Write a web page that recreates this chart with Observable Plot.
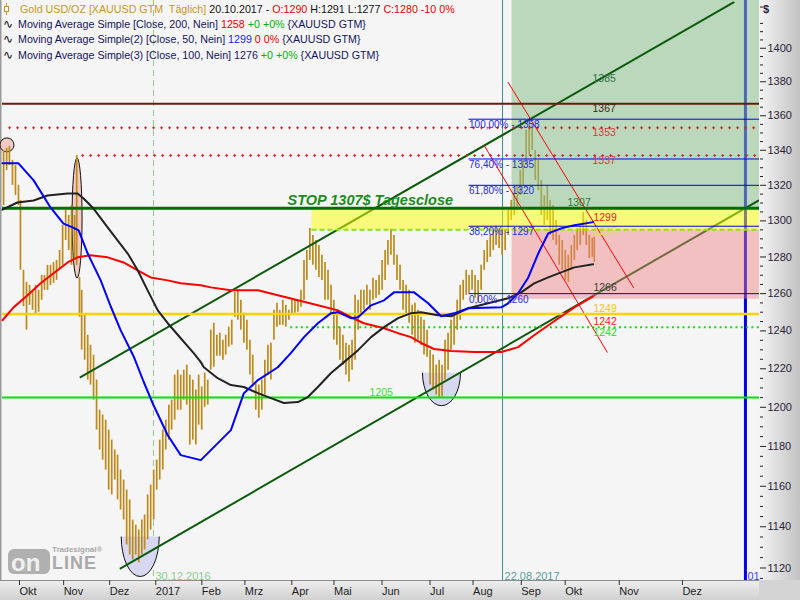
<!DOCTYPE html>
<html><head><meta charset="utf-8">
<script src="https://cdn.jsdelivr.net/npm/d3@7"></script>
<script src="https://cdn.jsdelivr.net/npm/@observablehq/plot@0.6"></script>
<style>html,body{margin:0;padding:0;background:#fff;}#chart{width:800px;height:600px;overflow:hidden;}</style>
</head><body><div id="chart"></div>
<script>
// ---------- DATA ----------
// x = trading-day index (0 = 21.09.2016), y = price (USD)
const candleIndex = [0.5,1.9,3.2,4.6,6.0,7.4,8.3,9.7,11.1,12.5,
13.9,15.3,16.7,18.1,19.4,20.8,22.2,23.6,25.0,26.4,
27.8,29.2,30.6,31.9,33.3,34.3,35.6,36.6,38.0,39.4,
40.7,42.1,43.5,44.9,46.3,47.7,49.1,50.5,51.9,53.2,
54.6,56.0,57.4,58.8,60.2,61.6,63.0,64.4,65.7,67.1,
68.5,69.9,71.3,72.7,74.1,75.5,76.9,78.2,79.6,81.0,
82.4,83.8,85.2,86.6,88.0,89.4,90.7,92.1,93.5,94.9,
96.3,97.7,99.1,100.5,101.9,103.2,104.6,106.0,107.4,108.8,
110.2,111.6,113.0,114.4,115.7,117.1,118.5,119.9,121.3,122.7,
124.1,125.5,126.9,128.2,129.6,131.0,132.4,133.8,135.2,136.6,
138.0,139.4,140.7,142.1,143.5,144.9,146.3,147.7,149.1,150.5,
151.9,153.2,154.6,156.0,157.4,158.8,160.2,161.6,163.0,164.4,
165.7,167.1,168.5,169.9,171.3,172.7,174.1,175.5,176.9,178.2,
179.6,181.0,182.4,183.8,185.2,186.6,188.0,189.4,190.7,192.1,
193.5,194.9,196.3,197.7,199.1,200.5,201.9,203.2,204.6,206.0,
207.4,208.8,210.2,211.6,213.0,214.4,215.7,217.1,218.5,219.9,
221.3,222.7,224.1,225.5,226.9,228.2,229.6,231.0,232.4,233.8,
235.2,236.6,238.0,239.4,240.7,242.1,243.5,244.9,246.3,247.7,
249.1,250.5,251.9,253.2,254.6,256.0,257.4,258.8,260.2,261.6,
263.0,264.4,265.7,267.1,268.5,269.9,271.3,272.7,273.6];
const candleHigh = [1339.9,1341.1,1342.2,1334.2,1331.3,1320.0,1311.4,1272.7,1266.1,1264.5,
1261.8,1264.5,1261.8,1269.9,1269.9,1275.4,1275.4,1277.0,1278.1,1283.6,
1297.4,1305.8,1303.0,1308.6,1303.0,1337.0,1268.8,1261.8,1248.4,1237.7,
1232.4,1227.2,1214.1,1198.5,1196.0,1193.4,1188.3,1183.2,1178.2,1175.6,
1168.1,1163.1,1158.1,1153.2,1143.3,1140.8,1138.4,1143.3,1145.8,1155.7,
1160.6,1168.1,1173.1,1183.2,1188.3,1193.4,1201.1,1203.7,1216.7,1219.3,
1216.7,1219.3,1221.9,1216.7,1214.1,1208.9,1216.7,1210.5,1217.8,1214.1,
1240.4,1244.1,1237.7,1238.8,1235.1,1237.7,1242.0,1245.7,1260.7,1261.8,
1256.4,1249.4,1245.7,1235.1,1227.2,1213.1,1211.5,1214.1,1224.5,1232.4,
1233.5,1251.0,1254.8,1251.0,1256.4,1253.7,1251.0,1256.4,1256.4,1256.4,
1261.8,1278.1,1283.6,1295.8,1291.9,1289.1,1286.3,1280.9,1277.0,1272.7,
1264.5,1256.4,1251.0,1242.0,1237.7,1233.5,1232.4,1235.1,1259.1,1256.4,
1261.8,1261.8,1264.5,1261.8,1268.3,1267.2,1269.9,1278.1,1283.6,1289.1,
1295.3,1291.9,1280.9,1275.4,1267.2,1264.5,1261.8,1253.7,1254.8,1251.0,
1247.3,1245.7,1240.4,1229.8,1227.2,1221.9,1224.5,1221.9,1235.1,1238.8,
1245.7,1248.4,1256.4,1264.5,1267.2,1272.7,1269.9,1272.7,1269.9,1267.2,
1275.4,1283.6,1289.1,1291.9,1294.7,1297.4,1294.7,1297.4,1294.7,1305.8,
1311.4,1315.4,1320.0,1328.4,1334.2,1351.5,1357.3,1354.4,1339.9,1334.2,
1322.8,1314.2,1320.0,1311.4,1308.6,1300.2,1291.9,1289.1,1283.6,1280.9,
1286.3,1291.9,1295.8,1297.4,1304.7,1300.2,1291.9,1290.3,1291];
const candleLow = [1308.6,1328.4,1331.3,1320.0,1314.2,1308.6,1272.7,1253.0,1240.4,1253.7,
1251.0,1248.4,1250.0,1256.4,1261.8,1261.8,1264.5,1265.6,1267.2,1272.7,
1275.4,1289.1,1283.6,1275.4,1278.1,1275.4,1247.3,1229.8,1224.5,1214.1,
1211.5,1203.7,1188.3,1178.2,1173.1,1168.1,1158.1,1155.7,1163.1,1153.2,
1148.2,1143.3,1131.1,1126.3,1123.9,1126.3,1122.5,1126.3,1128.7,1133.6,
1138.4,1143.3,1158.1,1163.1,1168.1,1178.2,1183.2,1188.3,1193.4,1198.5,
1198.5,1203.7,1201.1,1180.7,1183.2,1180.7,1190.8,1188.3,1200.0,1201.1,
1219.3,1220.8,1226.6,1226.6,1224.5,1227.2,1231.4,1232.4,1247.3,1245.7,
1240.4,1233.5,1229.8,1216.7,1210.5,1198.5,1194.4,1198.5,1206.3,1216.7,
1214.1,1235.1,1242.0,1243.0,1243.0,1242.0,1245.7,1248.4,1249.4,1250.0,
1252.6,1256.4,1267.2,1278.1,1275.4,1272.7,1268.8,1267.2,1256.4,1256.4,
1248.4,1235.1,1232.4,1224.5,1221.9,1216.7,1213.1,1219.3,1224.5,1240.4,
1249.4,1251.0,1253.7,1251.0,1256.4,1257.5,1259.1,1261.8,1267.2,1275.4,
1280.9,1275.4,1267.2,1261.8,1251.0,1248.4,1244.1,1237.7,1233.5,1235.1,
1232.4,1227.2,1226.1,1211.5,1208.9,1206.3,1204.7,1205.3,1214.1,1219.3,
1229.8,1232.4,1240.4,1245.7,1256.4,1259.1,1260.2,1261.8,1257.5,1254.8,
1261.8,1272.7,1277.0,1279.8,1283.6,1286.3,1284.7,1280.9,1283.6,1291.9,
1300.2,1303.0,1305.8,1314.2,1320.0,1331.3,1337.0,1339.9,1322.8,1317.1,
1303.0,1297.4,1300.2,1291.9,1289.1,1286.3,1275.4,1272.7,1267.2,1266.1,
1272.7,1278.1,1283.6,1286.3,1291.9,1286.3,1279.2,1279.8,1277];

// Moving averages [index, price]
const ma200 = [[0,1245.7],[5.1,1252.6],[11.6,1259.1],[17.6,1265.6],[23.6,1271.1],[30.1,1277.0],[34.7,1279.8],[40.7,1280.9],[48.6,1279.8],[56,1277.0],[62.5,1272.7],[68.5,1268.8],[76.4,1267.2],[82.4,1265.6],[91.7,1264.5],[96.3,1263.4],[105.6,1261.8],[118.1,1261.8],[127.3,1259.1],[136.6,1256.4],[145.8,1253.7],[155.1,1251.0],[161.1,1247.3],[167.1,1244.1],[176.4,1241.4],[182.9,1238.8],[188.9,1236.7],[193.5,1233.6],[199.5,1230.4],[207.4,1229.3],[218.1,1228.8],[230.6,1228.8],[238.4,1231.4],[245.8,1237.7],[253.7,1244.1],[264.4,1252.6],[273.1,1258.5]];
const ma50 = [[0,1332.5],[7.4,1332.5],[14.4,1322.8],[22.2,1307.5],[28.2,1298.5],[32.4,1296.4],[35.2,1294.7],[39.4,1281.9],[45.4,1267.2],[50,1253.2],[54.6,1240.4],[60.6,1226.6],[65.3,1213.1],[69.9,1200.9],[76.4,1185.7],[82.4,1175.6],[91.7,1173.1],[105.6,1188.3],[111.6,1207.3],[118.1,1214.1],[127.3,1220.8],[133.3,1228.2],[139.4,1236.7],[145.8,1244.1],[151.9,1249.5],[155.1,1250.0],[161.1,1246.8],[164.4,1247.3],[170.4,1253.7],[176.4,1256.4],[181,1260.7],[185.6,1260.7],[190.3,1260.7],[196.8,1254.8],[202.8,1247.8],[208.8,1249.4],[215.3,1252.1],[230.6,1252.6],[233.8,1254.8],[238.4,1260.2],[243.1,1268.8],[247.7,1281.9],[252.3,1293.0],[258.3,1295.8],[264.4,1297.5],[273.1,1299.3]];
const ma100 = [[0,1306.3],[6.9,1310.3],[14.4,1311.4],[20.8,1314.2],[30.1,1315.4],[34.7,1315.4],[37.5,1312.5],[42.1,1306.9],[48.6,1296.4],[53.2,1289.1],[57.9,1281.9],[62.5,1272.7],[67.1,1261.8],[71.8,1251.0],[76.4,1244.1],[82.4,1236.1],[88.4,1228.2],[91.7,1223.5],[93.1,1220.8],[99.5,1215.1],[105.6,1211.5],[111.6,1210.5],[118.1,1207.3],[124.1,1204.7],[130.1,1202.2],[136.6,1202.7],[141.2,1205.3],[145.8,1210.5],[151.9,1217.8],[157.9,1223.5],[164.4,1229.8],[170.4,1236.7],[176.4,1242.0],[182.9,1246.8],[188.9,1249.5],[193.5,1250.0],[201.4,1248.4],[207.4,1247.8],[215.3,1252.1],[224.5,1254.8],[233.8,1257.5],[239.8,1260.7],[245.8,1265.6],[252.3,1268.8],[258.3,1271.6],[264.4,1274.3],[273.1,1276.0]];

// Trend channel (dark green) and short-term down channel (red), [index, price]
const channelUpper = [[36.1,1215.6],[338,1427.8]];
const channelLower = [[54.6,1119.8],[349.5,1311.4]];
const downLine1 = [[222.7,1342.8],[279.6,1228.7]];
const downLine2 = [[233.8,1379.6],[291.7,1263.4]];

// Horizontal levels
const stopLevel = 1307;
const resistLevel = 1367;
const plusLevels = [{v:1353, from:2.8}, {v:1337, from:36.6}];
const fibLevels = [{pct:"100,00%", v:1358},{pct:"76,40%", v:1335},{pct:"61,80%", v:1320},{pct:"38,20%", v:1297},{pct:"0,00%", v:1260}];
const fibFrom = 215.7;
const bandLevels = {top:1307, bottom:1295, from:143.1};
const zoneFrom = 235.6;
const pinkZone = {top:1295, bottom:1257};
const yellowLevel = 1249;
const greenDotLevel = {v:1242, from:133.3};
const supportLevel = 1205;
const xEnd = 350;

// Vertical markers
const markerDates = [{i:69.8, label:"30.12.2016"},{i:231.2, label:"22.08.2017"}];
const futureMarker = {i:343.5, label:"01"};

// Level labels
const labelsAbove = [
  {t:"1307", i:261.2, v:1307, c:"#2E7A2E"},
  {t:"1299", i:273.2, v:1299, c:"#FF1A1A"},
  {t:"1249", i:273.2, v:1249, c:"#F2C800"},
  {t:"1242", i:273.2, v:1242, c:"#FF2020"},
  {t:"1205", i:169.7, v:1205, c:"#3ADD3A"}
];
const labelsOnLine = [
  {t:"1295", i:273.2, v:1295, c:"#D6E05A"}
];
const labelsBelow = [
  {t:"1385", i:272.8, v:1385, c:"#2F6F4A"},
  {t:"1367", i:272.8, v:1367, c:"#4A2410"},
  {t:"1353", i:272.8, v:1353, c:"#D83A3A"},
  {t:"1337", i:272.8, v:1337, c:"#D83A3A"},
  {t:"1266", i:273.2, v:1266, c:"#3A3A3A"},
  {t:"1242", i:273.2, v:1242, c:"#22DD22"}
];
const stopNote = {t:"STOP 1307$ Tagesclose", i:131.8, v:1307};

// Annotation ellipses (centre in data space)
const ellipseCentres = [
  {i:2.3, p:1342.8, kind:"circle"},
  {i:34.7, p:1301.3, kind:"tall"},
  {i:63.9, p:1135.0, kind:"bowl"},
  {i:203.2, p:1217.7, kind:"bowl2"}
];

// Axes
const yTicks = [1120,1140,1160,1180,1200,1220,1240,1260,1280,1300,1320,1340,1360,1380,1400];
const monthTickIdx = [7.4,27.8,49.1,70.4,91.7,111.6,133.3,152.8,175.0,197.2,217.1,239.4,259.7,284.7,313.9];
const monthLabels = ["Okt","Nov","Dez","2017","Feb","Mrz","Apr","Mai","Jun","Jul","Aug","Sep","Okt","Nov","Dez"];

// Legend
const legendRows = [
  [["Gold USD/OZ [XAUUSD GTM  Täglich] ","#C8961E"],["20.10.2017 - ","#111"],["O:1290","#E60000"],[" H:1291 L:1277 ","#111"],["C:1280 -10 0%","#E60000"]],
  [["Moving Average Simple [Close, 200, Nein] ","#14145A"],["1258","#E60000"],[" +0 +0%","#00B400"],[" {XAUUSD GTM}","#14145A"]],
  [["Moving Average Simple(2) [Close, 50, Nein] ","#14145A"],["1299","#2020FF"],[" 0 0%","#E60000"],[" {XAUUSD GTM}","#14145A"]],
  [["Moving Average Simple(3) [Close, 100, Nein] ","#14145A"],["1276","#14145A"],[" +0 +0%","#00B400"],[" {XAUUSD GTM}","#14145A"]]
];

// ---------- RENDER ----------
const FONT = "'Liberation Sans', Arial, sans-serif";
const n = Math.min(candleIndex.length, candleHigh.length, candleLow.length);
const candles = d3.range(n).map(k => ({i:candleIndex[k], hi:candleHigh[k], lo:candleLow[k]}));
const monthMap = new Map(monthTickIdx.map((d,k)=>[d, monthLabels[k]]));

function chrome(index, scales, values, dims) {
  const W = dims.width, H = dims.height;
  const R = W - dims.marginRight, B = H - dims.marginBottom;
  const g = d3.create("svg:g").attr("text-anchor","start");
  const defs = g.append("defs");
  const gr = defs.append("linearGradient").attr("id","gRight").attr("x1",0).attr("x2",1).attr("y1",0).attr("y2",0);
  gr.append("stop").attr("offset",0).attr("stop-color","#F4F4F4");
  gr.append("stop").attr("offset",1).attr("stop-color","#C2C2C2");
  const gb = defs.append("linearGradient").attr("id","gBottom").attr("x1",0).attr("x2",0).attr("y1",0).attr("y2",1);
  gb.append("stop").attr("offset",0).attr("stop-color","#EEEEEE");
  gb.append("stop").attr("offset",1).attr("stop-color","#D0D0D0");
  g.append("rect").attr("x",0).attr("y",0).attr("width",R).attr("height",B).attr("fill","#F5F5F5");
  g.append("rect").attr("x",R).attr("y",0).attr("width",W-R).attr("height",B).attr("fill","url(#gRight)");
  g.append("rect").attr("x",0).attr("y",B).attr("width",R).attr("height",H-B).attr("fill","url(#gBottom)");
  g.append("rect").attr("x",R).attr("y",B).attr("width",W-R).attr("height",H-B).attr("fill","#D4D4D4");
  g.append("line").attr("x1",0).attr("x2",R).attr("y1",B+0.5).attr("y2",B+0.5).attr("stroke","#8C8C8C");
  g.append("line").attr("x1",0.5).attr("x2",0.5).attr("y1",0).attr("y2",B).attr("stroke","#9A9A9A");
  g.append("line").attr("x1",1.5).attr("x2",1.5).attr("y1",0).attr("y2",B).attr("stroke","#C8C8C8");
  g.append("text").attr("x",R+4).attr("y",13).attr("font-family",FONT).attr("font-size",11).attr("font-weight","bold").attr("fill","#2A1F3A").text("$");
  return g.node();
}

function ellipses(index, scales) {
  const g = d3.create("svg:g");
  const size = {circle:[7,7], tall:[5,60], bowl:[19,40], bowl2:[19,33]};
  for (const e of ellipseCentres) {
    const cx = scales.x(e.i), cy = scales.y(e.p);
    const [rx, ry] = size[e.kind];
    if (e.kind === "bowl" || e.kind === "bowl2") {
      g.append("path").attr("d", `M${cx-rx},${cy}A${rx},${ry} 0 0 0 ${cx+rx},${cy}`)
        .attr("fill","#D7D7F2").attr("stroke","#111").attr("stroke-width",1);
    } else {
      g.append("ellipse").attr("cx",cx).attr("cy",cy).attr("rx",rx).attr("ry",ry)
        .attr("fill","#F3C2BC").attr("fill-opacity",0.85).attr("stroke","#111").attr("stroke-width",1);
    }
  }
  return g.node();
}

function legend() {
  const g = d3.create("svg:g").attr("font-family", FONT).attr("font-size", 10.7).attr("text-anchor","start");
  legendRows.forEach((row, r) => {
    const t = g.append("text").attr("x", r === 0 ? 20 : 18).attr("y", 13 + r*15.2).attr("text-anchor","start").style("white-space","pre");
    row.forEach(([s,c]) => t.append("tspan").attr("fill", c).text(s));
    if (r === 0) {
      g.append("line").attr("x1",6.5).attr("x2",6.5).attr("y1",3).attr("y2",15).attr("stroke","#C8961E");
      g.append("rect").attr("x",4.5).attr("y",6.5).attr("width",4).attr("height",5).attr("fill","#fff").attr("stroke","#C8961E");
    } else {
      g.append("text").attr("x",3).attr("y",13 + r*15.2).attr("text-anchor","start").attr("font-family","'DejaVu Sans', sans-serif").attr("font-size",12).attr("fill","#111").text("\u223F");
    }
  });
  // Tradesignal online logo
  const lg = g.append("g").attr("fill","#A9A9A9").attr("text-anchor","start");
  lg.append("rect").attr("x",8).attr("y",549).attr("width",42).attr("height",25).attr("rx",6).attr("fill","#A9A9A9").attr("fill-opacity",0.9);
  lg.append("text").attr("x",11).attr("y",571).attr("font-family",FONT).attr("font-weight","bold").attr("font-size",24).attr("fill","#F0F0F0").text("on");
  lg.append("text").attr("x",52).attr("y",569).attr("font-family",FONT).attr("font-weight","bold").attr("font-size",18).attr("letter-spacing",1).text("LINE");
  lg.append("text").attr("x",52).attr("y",552).attr("font-family",FONT).attr("font-weight","bold").attr("font-size",8).text("Tradesignal®");
  return g.node();
}

const chart = Plot.plot({
  width: 800, height: 600,
  marginLeft: 2, marginRight: 41, marginTop: 0, marginBottom: 20,
  x: {domain: [0, 350], axis: null},
  y: {type: "log", domain: [1114, 1429], axis: null},
  color: {type: "identity"},
  style: {background: "transparent", fontFamily: FONT, fontSize: "11px", overflow: "visible"},
  marks: [
    chrome,
    // vertical markers
    Plot.ruleX([markerDates[0]], {x: "i", stroke: "#8FCB8F", strokeWidth: 1, strokeDasharray: "6,4"}),
    Plot.ruleX([markerDates[1]], {x: "i", stroke: "#3A8C8C", strokeWidth: 1}),
    Plot.ruleX([futureMarker], {x: "i", stroke: "#0000E6", strokeWidth: 3}),
    ellipses,
    // candles
    Plot.ruleX(candles, {x: "i", y1: "lo", y2: "hi", stroke: "#BC8A1A", strokeWidth: 1.7}),
    // green target zone (under channel lines)
    Plot.rect([{x1: zoneFrom, x2: xEnd, y1: stopLevel, y2: 1429}], {x1: "x1", x2: "x2", y1: "y1", y2: "y2", fill: "#8CC08C", fillOpacity: 0.55, clip: true}),
    // channels
    Plot.line(channelUpper, {x: d => d[0], y: d => d[1], stroke: "#0B5A0B", strokeWidth: 2, clip: true}),
    Plot.line(channelLower, {x: d => d[0], y: d => d[1], stroke: "#0B5A0B", strokeWidth: 2, clip: true}),
    // pink zone and yellow band
    Plot.rect([{x1: zoneFrom, x2: xEnd, y1: pinkZone.bottom, y2: pinkZone.top}], {x1: "x1", x2: "x2", y1: "y1", y2: "y2", fill: "#F08080", fillOpacity: 0.45}),
    Plot.rect([{x1: bandLevels.from, x2: xEnd, y1: bandLevels.bottom, y2: bandLevels.top}], {x1: "x1", x2: "x2", y1: "y1", y2: "y2", fill: "#FFFF00", fillOpacity: 0.5}),
    // red down lines
    Plot.line(downLine1, {x: d => d[0], y: d => d[1], stroke: "#FF0000", strokeWidth: 1}),
    Plot.line(downLine2, {x: d => d[0], y: d => d[1], stroke: "#FF0000", strokeWidth: 1}),
    // horizontal levels
    Plot.ruleY([resistLevel], {stroke: "#661E0C", strokeWidth: 2}),
    Plot.ruleY(plusLevels, {y: "v", x1: "from", x2: xEnd, stroke: "#E02020", strokeWidth: 1, strokeDasharray: "3,5"}),
    Plot.ruleY(plusLevels, {y: "v", x1: "from", x2: xEnd, stroke: "#E02020", strokeWidth: 3, strokeDasharray: "1,7", strokeDashoffset: -1}),
    Plot.ruleY(fibLevels, {y: "v", x1: fibFrom, x2: xEnd, stroke: "#0000E6", strokeWidth: 1}),
    Plot.ruleY([bandLevels], {y: "bottom", x1: "from", x2: xEnd, stroke: "#8CE614", strokeWidth: 2, strokeDasharray: "5,3"}),
    Plot.ruleY([stopLevel], {stroke: "#006E00", strokeWidth: 3}),
    Plot.ruleY([yellowLevel], {stroke: "#FFD200", strokeWidth: 2.5}),
    Plot.ruleY([greenDotLevel], {y: "v", x1: "from", x2: xEnd, stroke: "#11DD11", strokeWidth: 2, strokeDasharray: "2,3.3"}),
    Plot.ruleY([supportLevel], {stroke: "#00E400", strokeWidth: 2}),
    // moving averages
    Plot.line(ma200, {x: d => d[0], y: d => d[1], stroke: "#FF0000", strokeWidth: 2}),
    Plot.line(ma100, {x: d => d[0], y: d => d[1], stroke: "#222222", strokeWidth: 2}),
    Plot.line(ma50, {x: d => d[0], y: d => d[1], stroke: "#0000FF", strokeWidth: 2}),
    // labels
    Plot.text(fibLevels, {x: fibFrom, y: "v", text: d => `${d.pct} - ${d.v}`, lineAnchor: "top", textAnchor: "start", dy: 2, fontSize: 10, fill: "#2A2AE6"}),
    Plot.text(labelsAbove, {x: "i", y: "v", text: "t", fill: "c", lineAnchor: "bottom", textAnchor: "start", dy: -2, fontSize: 10.5}),
    Plot.text(labelsOnLine, {x: "i", y: "v", text: "t", fill: "c", lineAnchor: "middle", textAnchor: "start", dy: 2, fontSize: 10.5}),
    Plot.text(labelsBelow, {x: "i", y: "v", text: "t", fill: "c", lineAnchor: "top", textAnchor: "start", dy: 1, fontSize: 10.5}),
    Plot.text([stopNote], {x: "i", y: "v", text: "t", lineAnchor: "bottom", textAnchor: "start", dy: -3, fontSize: 14.5, fontWeight: "bold", fontStyle: "italic", fill: "#1F8A1F"}),
    Plot.text(markerDates, {x: "i", text: "label", frameAnchor: "bottom", lineAnchor: "bottom", textAnchor: "start", dx: 2, dy: -1, fontSize: 11, fill: (d, k) => k === 0 ? "#8CCB8C" : "#5A9C9C"}),
    Plot.text([futureMarker], {x: "i", text: "label", frameAnchor: "bottom", lineAnchor: "bottom", textAnchor: "start", dx: 2, dy: -1, fontSize: 11, fill: "#3344FF"}),
    legend,
    // axes
    Plot.axisY({ticks: d3.range(1115, 1430, 5).filter(v => v % 20 !== 0), anchor: "right", tickSize: 3, tickFormat: () => "", label: null, stroke: "#222"}),
    Plot.axisY({ticks: yTicks, anchor: "right", tickSize: 6, tickPadding: 2, tickFormat: d => String(d), label: null, fontSize: 11, fill: "#2A1F3A", stroke: "#222"}),
    Plot.axisX({ticks: monthTickIdx, anchor: "bottom", tickSize: 5, tickPadding: 2, tickFormat: d => monthMap.get(d), textAnchor: "start", dx: 1, label: null, fontSize: 11, fill: "#1E1E1E", stroke: "#333"})
  ]
});
document.getElementById("chart").appendChild(chart);
</script></body></html>
